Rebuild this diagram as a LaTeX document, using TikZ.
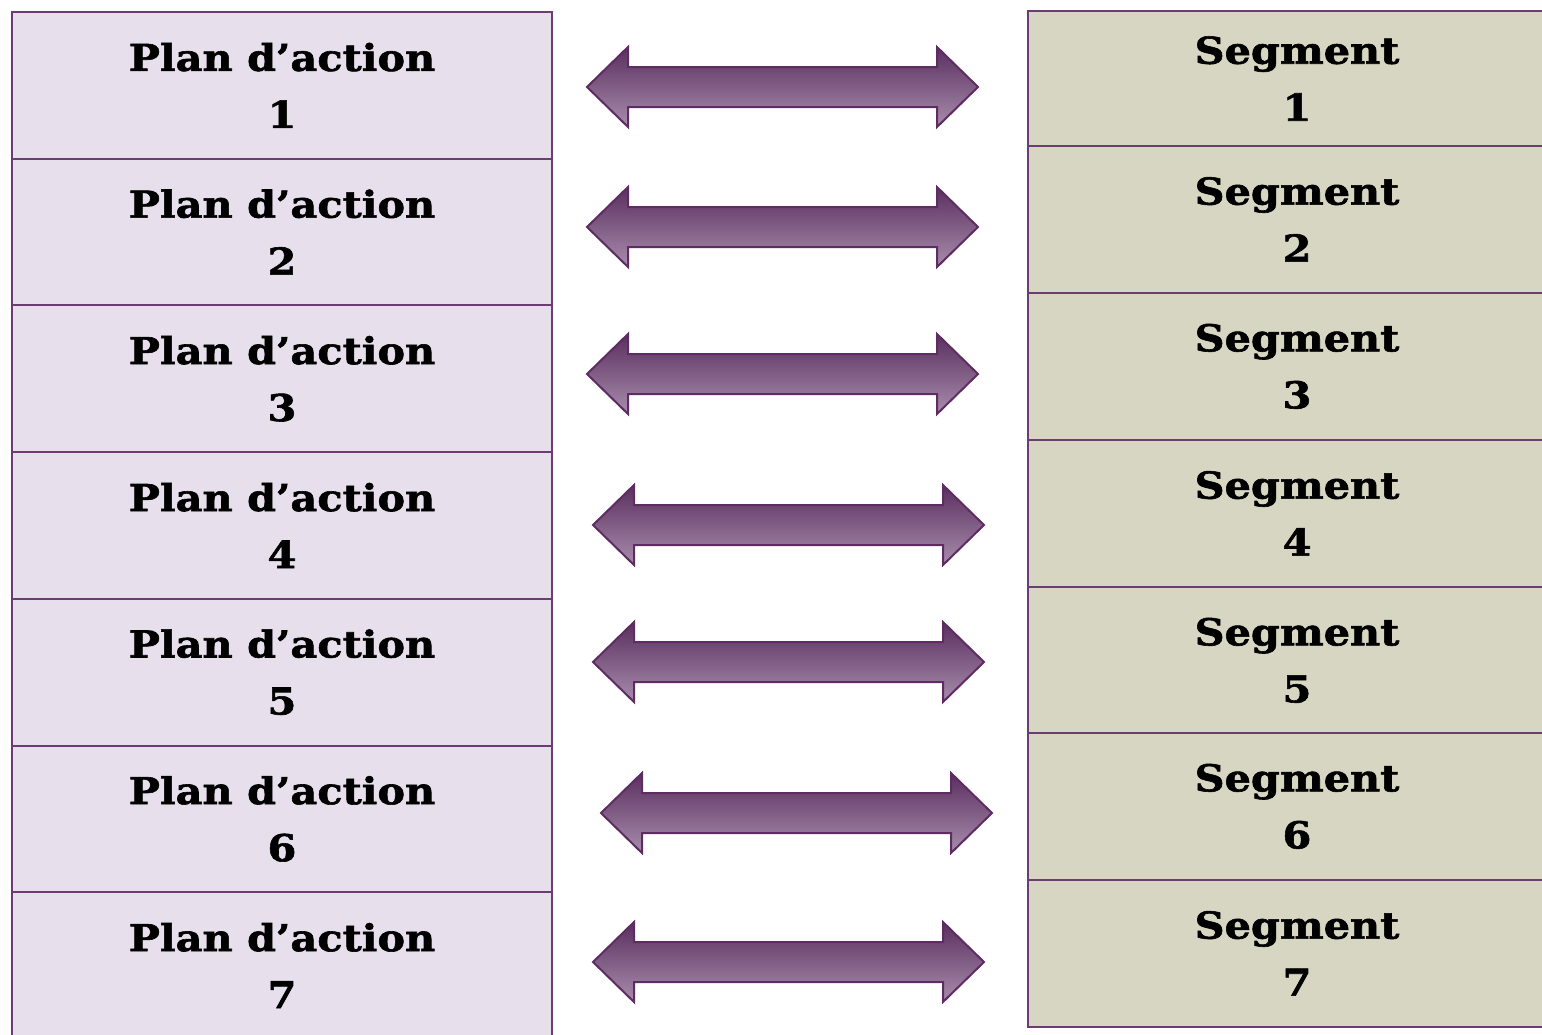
\documentclass[tikz,border=0pt]{standalone}
\usepackage{fontspec}
\setmainfont{DejaVu Serif}[BoldFeatures={FakeStretch=1.12, FakeBold=1.6}]
\usepackage{tikz}
\usetikzlibrary{positioning}
\definecolor{planfill}{HTML}{E7DFEC}
\definecolor{segfill}{HTML}{D7D6C2}
\definecolor{boxline}{HTML}{6C3D70}
\definecolor{arrowtop}{HTML}{5A2F5F}
\definecolor{arrowbot}{HTML}{A88DAC}
\definecolor{arrowline}{HTML}{5E2C63}
\newcommand{\boxfont}{\fontsize{18.5}{28.5}\selectfont\bfseries}

\begin{document}
\begin{tikzpicture}[x=0.5pt,y=-0.5pt,
  cell/.style={draw=boxline, line width=1pt, anchor=north west, inner sep=0pt,
    outer sep=0pt, align=center, font=\boxfont, text=black},
  planbox/.style={cell, fill=planfill, minimum width=270pt, minimum height=73.35pt},
  segbox/.style={cell, fill=segfill, minimum width=269pt, minimum height=73.35pt},
  dblarrow/.style={draw=arrowline, line width=1pt, line join=miter,
    top color=arrowtop, bottom color=arrowbot}]
\useasboundingbox (0,0) rectangle (1542,1034);
\clip (0,0) rectangle (1542,1034);
% action plans
\foreach \i in {1,...,7} {
  \node[planbox] (plan\i) at (12, {12+146.7*(\i-1)}) {Plan d’action\\\i};
}
% segments
\node[segbox, minimum height=67.5pt] (seg1) at (1028,11) {Segment\\1};
\foreach \i/\ytop in {2/146, 3/293, 4/440, 5/587, 6/733, 7/880} {
  \node[segbox] (seg\i) at (1028,\ytop) {Segment\\\i};
}
% double arrows
\foreach \xa/\yc in {587/87, 587/227, 587/374, 593/525, 593/662, 601/813, 593/962} {
  \draw[dblarrow] (\xa,\yc) -- ++(41,-40) -- ++(0,20) -- ++(309,0) -- ++(0,-20)
    -- ++(41,40) -- ++(-41,40) -- ++(0,-20) -- ++(-309,0) -- ++(0,20) -- cycle;
}
\end{tikzpicture}
\end{document}
